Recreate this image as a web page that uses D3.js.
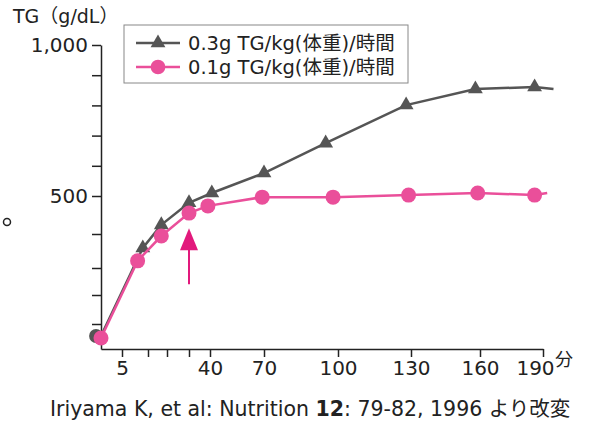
<!DOCTYPE html>
<meta charset="utf-8">
<style>
body { margin: 0; background: #fff; }
svg { font-family: "DejaVu Sans", "Noto Sans CJK JP", sans-serif; }
.axis path, .axis line { stroke: #222; stroke-width: 1.5px; }
.axis text { font-size: 20px; fill: #222; font-family: "DejaVu Sans", "Noto Sans CJK JP", sans-serif; }
</style>
<body>
<svg width="592" height="425"></svg>
</body>
<script src="https://d3js.org/d3.v7.min.js"></script>
<script>

// minutes after start / TG (g/dL).
// the last point of each series has no marker: the line just runs on a bit
var timeHigh = [0, 9, 17, 30, 41, 70, 95, 128, 158, 186, 195];
var tgHigh   = [52, 359, 424, 482, 510, 576, 675, 801, 854, 861, 854];
var timeLow  = [0, 8, 17, 30, 39, 69, 98, 129, 159, 186, 192];
var tgLow    = [44, 321, 394, 455, 474, 497, 497, 503, 510, 503, 510];
var seriesNames = ["0.3g TG/kg(体重)/時間", "0.1g TG/kg(体重)/時間"];

var xTicks  = [5, 10, 20, 30, 40, 70, 100, 130, 160, 190];
var xLabels = [5, 40, 70, 100, 130, 160, 190];
var yTicks  = [100, 200, 300, 400, 500, 600, 700, 800, 900, 1000];
var yLabels = [500, 1000];

// arrow under the 0.1g curve
var arrowTime = 30, arrowFrom = 240, arrowTo = 415;

var gray = "#555555", pink = "#ea4f9a", arrowPink = "#e2197c";

var svg = d3.select("svg");

// the axes in the figure are hand spaced, so both scales are piecewise
var x = d3.scaleLinear()
    .domain([0, 5, 10, 20, 30, 40, 70, 100, 130, 160, 190])
    .range([101, 122, 148, 167, 189, 210, 264, 338, 411, 480, 543]);
var y = d3.scaleLinear()
    .domain([0, 100, 200, 300, 400, 500, 1000])
    .range([349, 324, 295, 268, 234, 196, 45]);

// x axis
var xAxis = svg.append("g")
    .attr("class", "axis axis--x")
    .attr("transform", "translate(0," + y(0) + ")")
    .call(d3.axisBottom(x)
      .tickValues(xTicks)
      .tickSize(8)
      .tickSizeOuter(0)
      .tickPadding(4)
      .tickFormat(function(d) { return xLabels.indexOf(d) >= 0 ? d : ""; }));

// make room for the unit after 190
xAxis.selectAll(".tick text").filter(function(d) { return d === 190; })
    .attr("dx", -8);

svg.append("text")
    .attr("x", x(190) + 12)
    .attr("y", y(0) + 17)
    .attr("font-size", 18)
    .attr("fill", "#222")
    .text("分");

// y axis
svg.append("g")
    .attr("class", "axis axis--y")
    .attr("transform", "translate(" + x(0) + ",0)")
    .call(d3.axisLeft(y)
      .tickValues(yTicks)
      .tickSize(9)
      .tickSizeOuter(0)
      .tickPadding(4)
      .tickFormat(function(d) { return yLabels.indexOf(d) >= 0 ? d3.format(",")(d) : ""; }));

svg.append("text")
    .attr("x", 13)
    .attr("y", 23)
    .attr("font-size", 19)
    .attr("fill", "#222")
    .text("TG（g/dL）");

// lines
var line = d3.line()
    .x(function(d) { return x(d.t); })
    .y(function(d) { return y(d.v); });

var high = timeHigh.map(function(t, i) { return {t: t, v: tgHigh[i]}; });
var low = timeLow.map(function(t, i) { return {t: t, v: tgLow[i]}; });

svg.append("path")
    .datum(high)
    .attr("fill", "none")
    .attr("stroke", gray)
    .attr("stroke-width", 2.5)
    .attr("d", line);

var tri = d3.symbol().type(d3.symbolTriangle).size(95);

// first 0.3g point is drawn as a circle, peeking out from behind the pink one
svg.selectAll(".tri")
    .data(high.slice(0, -1))
  .enter().append("path")
    .attr("class", "tri")
    .attr("fill", gray)
    .attr("transform", function(d, i) { return "translate(" + (x(d.t) - (i ? 0 : 5)) + "," + y(d.v) + ")"; })
    .attr("d", function(d, i) { return i === 0 ? d3.symbol().type(d3.symbolCircle).size(150)() : tri(); });

svg.append("path")
    .datum(low)
    .attr("fill", "none")
    .attr("stroke", pink)
    .attr("stroke-width", 2.5)
    .attr("d", line);

svg.selectAll(".dot")
    .data(low.slice(0, -1))
  .enter().append("circle")
    .attr("class", "dot")
    .attr("fill", pink)
    .attr("cx", function(d) { return x(d.t); })
    .attr("cy", function(d) { return y(d.v); })
    .attr("r", 7.5);

// arrow
svg.append("line")
    .attr("x1", x(arrowTime)).attr("x2", x(arrowTime))
    .attr("y1", y(arrowFrom)).attr("y2", y(arrowTo) + 18)
    .attr("stroke", arrowPink)
    .attr("stroke-width", 2);

svg.append("path")
    .attr("fill", arrowPink)
    .attr("d", "M" + x(arrowTime) + "," + y(arrowTo) +
               "l9,22 l-18,0 z");

// legend
var legend = svg.append("g").attr("transform", "translate(124,25)");

legend.append("rect")
    .attr("width", 284)
    .attr("height", 58)
    .attr("fill", "#fff")
    .attr("stroke", "#888")
    .attr("stroke-width", 1);

var rows = legend.selectAll(".row")
    .data(seriesNames)
  .enter().append("g")
    .attr("class", "row")
    .attr("transform", function(d, i) { return "translate(0," + (18 + i * 24) + ")"; });

rows.append("line")
    .attr("x1", 12).attr("x2", 56)
    .attr("stroke", function(d, i) { return i ? pink : gray; })
    .attr("stroke-width", 2.5);

rows.append("path")
    .attr("transform", "translate(34,0)")
    .attr("fill", function(d, i) { return i ? pink : gray; })
    .attr("d", function(d, i) { return i ? d3.symbol().type(d3.symbolCircle).size(170)() : tri(); });

rows.append("text")
    .attr("x", 64)
    .attr("dy", "0.35em")
    .attr("font-size", 19.5)
    .attr("fill", "#222")
    .text(function(d) { return d; });

// stray mark at left of the figure
svg.append("circle")
    .attr("cx", 7).attr("cy", 222)
    .attr("r", 3.5)
    .attr("fill", "none")
    .attr("stroke", "#222")
    .attr("stroke-width", 1.5);

// source
var src = svg.append("text")
    .attr("x", 50)
    .attr("y", 416)
    .attr("font-size", 20.5)
    .attr("fill", "#222");
src.append("tspan").text("Iriyama K, et al: Nutrition ");
src.append("tspan").attr("font-weight", "bold").text("12");
src.append("tspan").text(": 79-82, 1996 より改変");

</script>
